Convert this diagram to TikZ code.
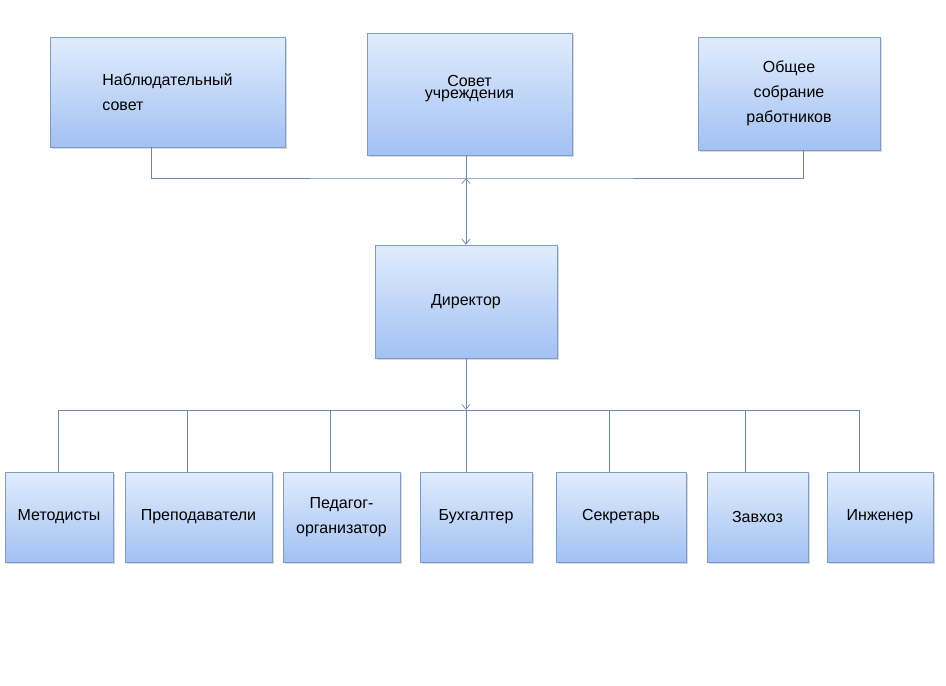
\documentclass[tikz,border=0pt]{standalone}
\usepackage{fontspec}
\setmainfont{Liberation Sans}
\usetikzlibrary{arrows.meta,shadows}
\definecolor{boxtop}{HTML}{E0ECFC}
\definecolor{boxbot}{HTML}{A3C1F3}
\definecolor{boxline}{HTML}{7F9CC4}
\definecolor{linkline}{HTML}{6A8AAE}
\tikzset{every picture/.style={line width=0.75pt}}
\tikzset{
  unitbox/.style={draw=boxline, line width=0.6pt, top color=boxtop, bottom color=boxbot,
    drop shadow={shadow xshift=1.5pt, shadow yshift=-1.5pt, fill=black!30},
    inner sep=1pt, align=center, font=\fontsize{16}{25}\selectfont},
  link/.style={draw=linkline, line width=0.7pt},
  barb/.tip={Straight Barb[length=5pt,width=8pt]}
}
\begin{document}
\begin{tikzpicture}[x=1pt,y=1pt,yscale=-1,xscale=1]
    \useasboundingbox (0,0) rectangle (946,686);
    \fill[white] (0,0) rectangle (946,686);

    % top row
    \node[unitbox, minimum width=235, minimum height=110, align=left] (nabl) at (167.5,92) {Наблюдательный\\совет};
    \node[unitbox, minimum width=205, minimum height=122] (sovet) at (469.5,94) {\raisebox{14pt}{\shortstack{Совет\\учреждения}}};
    \node[unitbox, minimum width=182, minimum height=113] (obsh) at (789,93.5) {Общее\\собрание\\работников};

    % director
    \node[unitbox, minimum width=182, minimum height=113] (dir) at (466,301.5) {Директор};

    % bottom row
    \node[unitbox, minimum width=108, minimum height=90] (met) at (59,517) {Методисты};
    \node[unitbox, minimum width=147, minimum height=90] (prep) at (198.5,517) {Преподаватели};
    \node[unitbox, minimum width=117, minimum height=90] (ped) at (341.5,517) {Педагог-\\организатор};
    \node[unitbox, minimum width=112, minimum height=90] (buh) at (476,517) {Бухгалтер};
    \node[unitbox, minimum width=130, minimum height=90] (sekr) at (621,517) {Секретарь};
    \node[unitbox, minimum width=101, minimum height=90] (zav) at (757.5,517) {Завхоз};
    \node[unitbox, minimum width=106, minimum height=90] (inzh) at (880,517) {Инженер};

    % bus lines
    \coordinate (topbus) at (466,178);
    \coordinate (lowbus) at (466,410);
    \draw[link] ([xshift=-16.5pt]nabl.south) |- (topbus) -| ([xshift=14pt]obsh.south);
    \draw[link] (sovet.south -| topbus) -- (topbus);
    \draw[link, barb-barb] (topbus) -- (dir.north);
    \draw[link, -barb] (dir.south) -- (lowbus);

    %Straight Lines
    \draw[link] (58,410) -- (859,410);
    \foreach \n/\x in {met/58, prep/187, ped/330, buh/466, sekr/609, zav/745, inzh/859}
      \draw[link] (\x,410) -- (\x,0 |- \n.north);
\end{tikzpicture}
\end{document}
